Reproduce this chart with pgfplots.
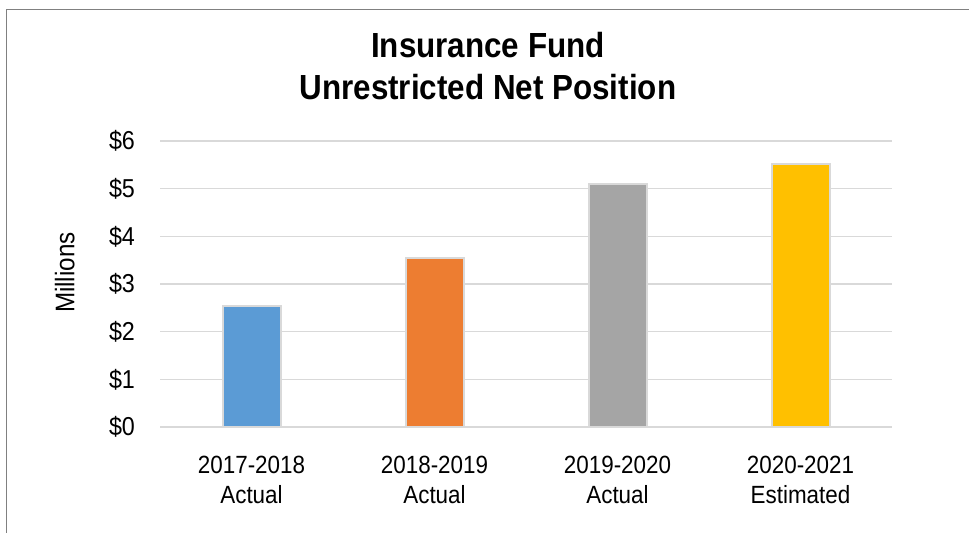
\documentclass[border=0pt]{standalone}
\usepackage{fontspec}
\setmainfont{Liberation Sans}[FakeStretch=0.9]
\usepackage{pgfplots}
\pgfplotsset{compat=1.18}

\definecolor{barblue}{HTML}{5B9BD5}
\definecolor{barorange}{HTML}{ED7D31}
\definecolor{bargray}{HTML}{A5A5A5}
\definecolor{bargold}{HTML}{FFC000}
\definecolor{gridgray}{HTML}{D9D9D9}
\definecolor{framegray}{HTML}{808080}

\begin{document}
\begin{tikzpicture}
    \useasboundingbox (0,0) rectangle (484.5bp,266.5bp);
    % outer chart frame (only top and left show in the reference)
    \draw[color=framegray, line width=0.8bp] (3.25bp,0) -- (3.25bp,261.75bp) -- (484.5bp,261.75bp);
    \begin{axis}[
        at={(80bp,53bp)}, anchor=south west,
        scale only axis,
        width=366bp, height=143bp,
        xmin=-0.5, xmax=3.5,
        ymin=0, ymax=6,
        ytick={0,1,2,3,4,5,6},
        yticklabels={\$0,\$1,\$2,\$3,\$4,\$5,\$6},
        xtick={0,1,2,3},
        xticklabels={{2017-2018\\Actual},{2018-2019\\Actual},{2019-2020\\Actual},{2020-2021\\Estimated}},
        xticklabel style={align=center, font=\fontsize{12.5}{15}\selectfont, yshift=-7bp},
        yticklabel style={font=\fontsize{13}{15}\selectfont, xshift=-9bp},
        axis line style={draw=none},
        tick style={draw=none},
        ymajorgrids,
        grid style={color=gridgray, line width=0.75bp},
        ylabel={Millions},
        ylabel style={at={(axis description cs:-0.13,0.54)}, anchor=center, font=\fontsize{13.5}{16}\selectfont},
        title={Insurance Fund\\Unrestricted Net Position},
        title style={at={(axis description cs:0.448,1.34)}, anchor=north, inner sep=0pt,
            align=center, font=\bfseries\fontsize{17.5}{21}\selectfont},
        ybar, bar width=29bp, bar shift=0pt,
        clip=false,
    ]
        \addplot[fill=barblue, draw=black!15, line width=1bp] coordinates {(0, 2.53)};
        \addplot[fill=barorange, draw=black!15, line width=1bp] coordinates {(1, 3.54)};
        \addplot[fill=bargray, draw=black!15, line width=1bp] coordinates {(2, 5.09)};
        \addplot[fill=bargold, draw=black!15, line width=1bp] coordinates {(3, 5.51)};
    \end{axis}
\end{tikzpicture}
\end{document}
